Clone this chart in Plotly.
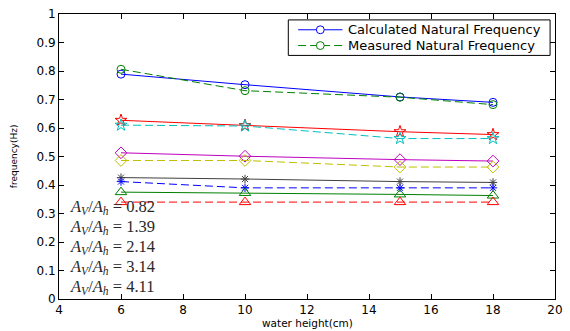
import plotly.graph_objects as go

# water height (cm) at which each natural frequency was evaluated
water_height = [6, 10, 15, 18]

# calculated (solid) and measured (dashed) natural frequencies in Hz, one pair per area ratio
calc_1 = [0.789, 0.752, 0.709, 0.690]
meas_1 = [0.806, 0.731, 0.708, 0.682]
calc_2 = [0.627, 0.609, 0.587, 0.577]
meas_2 = [0.610, 0.607, 0.563, 0.563]
calc_3 = [0.513, 0.501, 0.489, 0.484]
meas_3 = [0.486, 0.486, 0.463, 0.463]
calc_4 = [0.426, 0.421, 0.412, 0.409]
meas_4 = [0.412, 0.390, 0.390, 0.390]
calc_5 = [0.375, 0.372, 0.367, 0.363]
meas_5 = [0.340, 0.340, 0.340, 0.340]

area_ratios = ["0.82", "1.39", "2.14", "3.14", "4.11"]

legend_names = ["Calculated Natural Frequency", "Measured Natural Frequency"]

BLUE = "rgb(0,0,255)"
GREEN = "rgb(0,128,0)"
DASH = "8px,4px"

# (values, colour, marker, marker size, dashed?)
series = [
    (calc_1, BLUE, "circle-open", 8, False),
    (meas_1, GREEN, "circle-open", 8, True),
    (calc_2, "rgb(255,0,0)", "star-open", 9, False),
    (meas_2, "rgb(0,191,191)", "star-open", 9, True),
    (calc_3, "rgb(191,0,191)", "diamond-open", 9, False),
    (meas_3, "rgb(191,191,0)", "diamond-open", 9, True),
    (calc_4, "rgb(64,64,64)", "asterisk-open", 7, False),
    (meas_4, BLUE, "asterisk-open", 7, True),
    (calc_5, GREEN, "triangle-up-open", 10, False),
    (meas_5, "rgb(255,0,0)", "triangle-up-open", 10, True),
]

fig = go.Figure()
for vals, color, symbol, msize, dashed in series:
    fig.add_trace(go.Scatter(
        x=water_height, y=vals, mode="lines+markers", showlegend=False,
        line=dict(color=color, width=1, dash=DASH if dashed else "solid"),
        marker=dict(symbol=symbol, size=msize, color=color,
                    line=dict(color=color, width=1)),
    ))

# area-ratio labels stacked in the lower-left corner
label_y = [0.322, 0.253, 0.183, 0.111, 0.042]
for ratio, yv in zip(area_ratios, label_y):
    fig.add_annotation(
        x=4.28, y=yv, xref="x", yref="y", xanchor="left", yanchor="middle",
        text=(f"<i>A</i><sub><i>V</i></sub>/<i>A</i><sub><i>h</i></sub>"
              f" = {ratio}"),
        showarrow=False,
        font=dict(family="Liberation Serif", size=16.5, color="rgb(40,40,40)"),
    )

axis_common = dict(
    showline=True, linecolor="black", linewidth=1, mirror="ticks",
    ticks="inside", ticklen=5, tickcolor="black", tickwidth=1,
    showgrid=False, zeroline=False,
    tickfont=dict(family="DejaVu Sans", size=12, color="black"),
)

fig.update_xaxes(range=[4, 20], dtick=2, tick0=4, **axis_common)
fig.update_yaxes(range=[0, 1], dtick=0.1, tick0=0, **axis_common)

# axis titles
fig.add_annotation(
    x=12, y=(299 - 323) / 289, xref="x", yref="paper", text="water height(cm)",
    showarrow=False, xanchor="center", yanchor="middle",
    font=dict(family="DejaVu Sans", size=10.5, color="black"),
)
fig.add_annotation(
    x=(13 - 59) / 504, y=0.5, xref="paper", yref="paper", text="frequency(Hz)",
    showarrow=False, textangle=-90, xanchor="center", yanchor="middle",
    font=dict(family="DejaVu Sans", size=9, color="black"),
)


# legend box drawn in pixel units of the plotting area
def px(x):
    return (x - 59) / 504


def py(y):
    return (299 - y) / 289


fig.add_shape(type="rect", xref="paper", yref="paper",
              x0=px(292), x1=px(558), y0=py(52), y1=py(16),
              line=dict(color="black", width=1), fillcolor="white", layer="above")

legend_rows = [(legend_names[0], BLUE, "solid", 26),
               (legend_names[1], GREEN, DASH, 42)]
for name, color, dash, row in legend_rows:
    fig.add_shape(type="line", xref="paper", yref="paper",
                  x0=px(302), x1=px(347), y0=py(row), y1=py(row),
                  line=dict(color=color, width=1, dash=dash), layer="above")
    fig.add_shape(type="circle", xref="paper", yref="paper",
                  x0=px(320.5), x1=px(328.5), y0=py(row + 4), y1=py(row - 4),
                  line=dict(color=color, width=1), fillcolor="white", layer="above")
    fig.add_annotation(x=px(351), y=py(row), xref="paper", yref="paper",
                       text=name, showarrow=False, xanchor="left", yanchor="middle",
                       font=dict(family="DejaVu Sans", size=13, color="black"))

fig.update_layout(
    width=570, height=331,
    margin=dict(l=59, r=7, t=10, b=32),
    paper_bgcolor="white", plot_bgcolor="white",
    showlegend=False,
)

fig.write_html("out.html")
